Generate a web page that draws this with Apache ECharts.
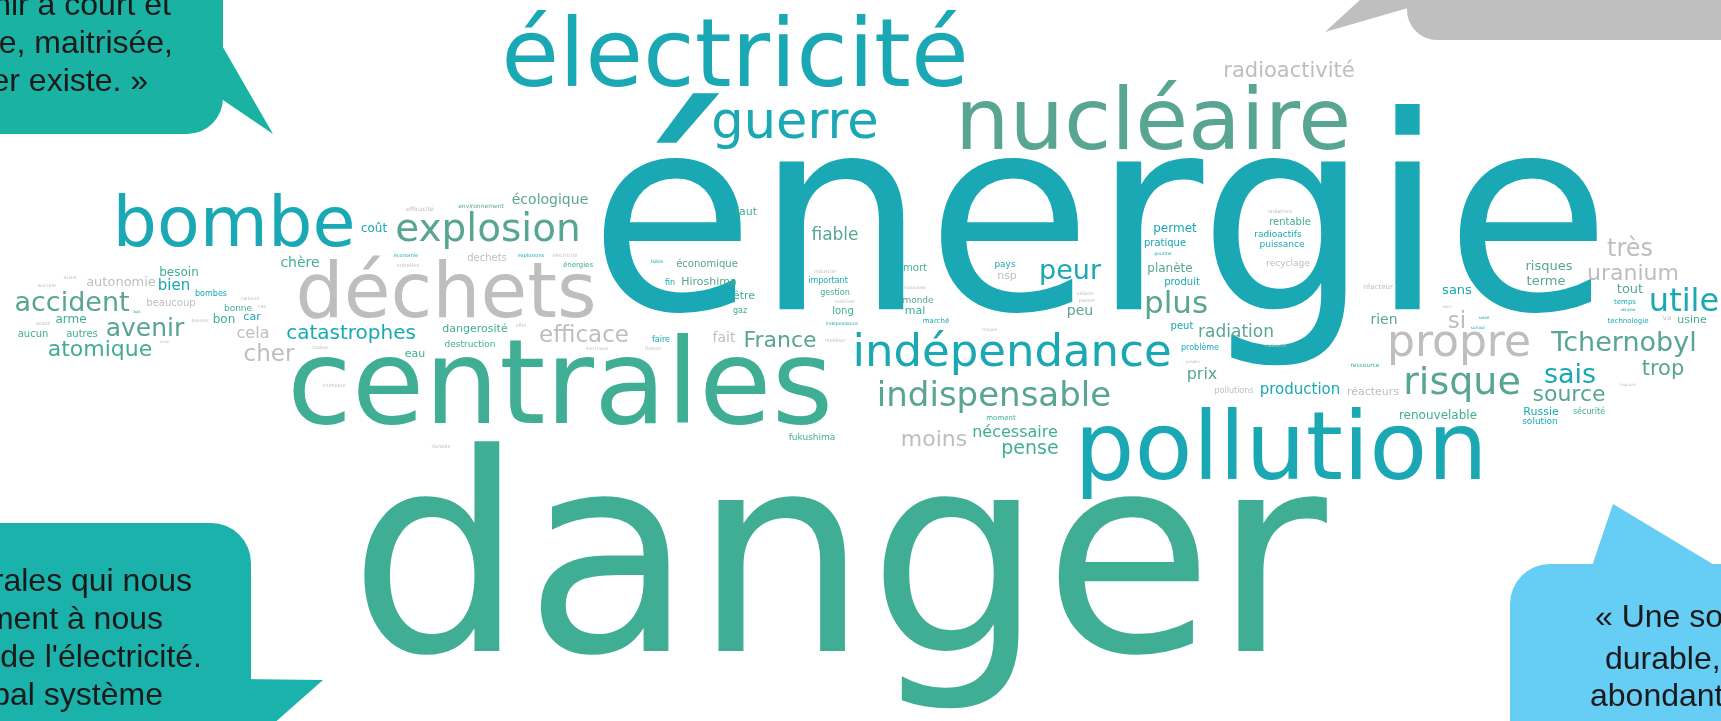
<!DOCTYPE html>
<html>
<head>
<meta charset="utf-8">
<script src="https://cdn.jsdelivr.net/npm/echarts@6/dist/echarts.min.js"></script>
<style>
html, body { margin: 0; padding: 0; background: #fff; }
#main { width: 1721px; height: 721px; }
</style>
</head>
<body>
<div id="main"></div>
<script>
// mots du nuage, leur place (centre x, ligne de base y), poids et teinte
var words = ['énergie', 'danger', 'centrales', 'pollution', 'électricité', 'nucléaire', 'déchets', 'bombe', 'guerre',
    'indépendance', 'propre', 'explosion', 'risque', 'indispensable', 'utile', 'plus', 'Tchernobyl', 'accident', 'peur',
    'sais', 'avenir', 'très', 'si', 'cher', 'efficace', 'France', 'uranium', 'source', 'atomique', 'moins', 'trop',
    'radioactivité', 'catastrophes', 'pense', 'radiation', 'prix', 'nécessaire', 'cela', 'production', 'bien', 'fait',
    'peu', 'rien', 'chère', 'écologique', 'autonomie', 'sans', 'risques', 'terme', 'tout', 'renouvelable', 'permet',
    'planète', 'besoin', 'bon', 'fiable', 'arme', 'Hiroshima', 'nsp', 'mal', 'faut', 'car', 'eau', 'dangerosité',
    'usine', 'Russie', 'réacteurs', 'être', 'coût', 'économique', 'mort', 'long', 'produit', 'peut', 'beaucoup',
    'aucun', 'autres', 'rentable', 'dechets', 'pratique', 'monde', 'bonne', 'destruction', 'radioactifs', 'puissance',
    'recyclage', 'fukushima', 'solution', 'pays', 'sécurité', 'faire', 'fin', 'gaz', 'gestion', 'important',
    'problème', 'pollutions', 'bombes', 'moment', 'marché', 'technologie', 'temps', 'énergies', 'réacteur', 'va',
    'ressource', 'économie', 'entretien', 'explosions', 'électricité', 'environnement', 'efficacité', 'aussi',
    'aucune', 'carbone', 'cas', 'assez', 'besoins', 'chaleur', 'chimique', 'effet', 'électrique', 'fission',
    'meilleur', 'durable', 'industrie', 'maîtriser', 'indépendance', 'mauvaise', 'moyen', 'néfaste', 'passer',
    'poutine', 'radiations', 'radioactif', 'projets', 'sens', 'soleil', 'surtout', 'ukraine', 'toujours', 'bas',
    'avoir', 'faible'];
var posX = [1100, 838, 560, 1281, 735, 1153, 446, 234, 795,
    1012, 1459, 488, 1462, 994, 1684, 1176, 1624, 72, 1070,
    1570, 145, 1630, 1457, 269, 584, 780, 1633, 1569, 100, 934, 1663,
    1289, 351, 1030, 1236, 1202, 1015, 253, 1300, 174, 724,
    1080, 1384, 300, 550, 121, 1457, 1549, 1546, 1630, 1438, 1175,
    1170, 179, 224, 835, 71, 709, 1007, 915, 746, 252, 415, 475,
    1692, 1541, 1373, 744, 374, 707, 915, 843, 1182, 1182, 171,
    33, 82, 1290, 487, 1165, 918, 238, 470, 1278, 1282,
    1288, 812, 1540, 1005, 1589, 661, 670, 740, 835, 828,
    1200, 1234, 211, 1001, 936, 1628, 1625, 578, 1378, 1667,
    1365, 406, 408, 531, 565, 481, 420, 70,
    47, 250, 262, 43, 200, 320, 334, 521, 597, 653,
    835, 441, 825, 845, 842, 915, 990, 1085, 1087,
    1163, 1280, 1276, 1193, 1447, 1484, 1478, 1628, 1628, 137,
    165, 657];
var posY = [320, 662, 428, 483, 90, 152, 320, 249, 140,
    368, 358, 243, 396, 407, 312, 314, 352, 312, 280,
    384, 337, 257, 329, 362, 343, 348, 281, 402, 357, 447, 376,
    78, 340, 455, 338, 380, 438, 339, 395, 291, 343,
    316, 325, 268, 205, 287, 295, 271, 286, 294, 419, 232,
    272, 276, 323, 241, 323, 285, 279, 314, 215, 320, 357, 332,
    323, 415, 395, 299, 232, 267, 271, 314, 285, 329, 306,
    337, 337, 225, 261, 246, 303, 311, 347, 237, 247,
    266, 440, 424, 267, 414, 342, 285, 313, 295, 283,
    350, 393, 296, 420, 323, 323, 304, 267, 289, 320,
    367, 257, 267, 257, 257, 208, 211, 279,
    287, 300, 308, 325, 322, 349, 387, 327, 350, 350,
    342, 448, 273, 303, 325, 289, 331, 295, 302,
    255, 213, 347, 363, 308, 319, 329, 311, 386, 313,
    343, 263];
var weight = [270, 276, 118, 95, 94, 86, 76, 70, 51,
    45, 44, 39, 38, 34, 32, 31, 27, 27, 27,
    27, 25, 24, 23, 23, 23, 22, 22, 22, 22, 22, 21,
    21, 20, 19, 17, 16, 16, 16, 15, 15, 14,
    14, 14, 14, 14, 13, 13, 13, 13, 13, 12, 12,
    12, 12, 12, 17, 12, 11, 11, 11, 11, 11, 11, 11,
    11, 11, 11, 11, 12, 10, 10, 10, 10, 10, 10,
    10, 10, 10, 10, 10, 9, 9, 9, 9, 9,
    9, 9, 9, 9, 8, 8, 8, 8, 8, 8,
    8, 8, 8, 7, 7, 7, 7, 7, 7, 7,
    6, 5, 5, 5, 5, 6, 6, 5,
    5, 4.5, 5, 5, 4.5, 4.5, 5, 4.5, 4.5, 5,
    5, 5, 5, 4.5, 4.5, 4.5, 4.5, 4.5, 5,
    4.5, 5, 4.5, 4, 4, 4, 4, 4, 4, 4,
    4, 4.5];
var tone = ['T', 'G', 'G', 'T', 'T', 'S', 'Y', 'T', 'T',
    'T', 'Y', 'S', 'S', 'S', 'T', 'S', 'S', 'S', 'T',
    'T', 'S', 'Y', 'Y', 'Y', 'Y', 'S', 'Y', 'S', 'G', 'Y', 'S',
    'Y', 'T', 'G', 'S', 'S', 'G', 'Y', 'T', 'T', 'Y',
    'S', 'S', 'G', 'S', 'Y', 'T', 'S', 'S', 'S', 'G', 'T',
    'S', 'G', 'G', 'S', 'G', 'S', 'Y', 'G', 'G', 'T', 'G', 'G',
    'G', 'T', 'Y', 'G', 'T', 'S', 'G', 'G', 'T', 'T', 'Y',
    'G', 'G', 'G', 'Y', 'T', 'S', 'G', 'G', 'T', 'T',
    'Y', 'G', 'T', 'T', 'G', 'T', 'T', 'G', 'G', 'T',
    'T', 'Y', 'T', 'G', 'T', 'T', 'T', 'G', 'Y', 'Y',
    'G', 'T', 'Y', 'T', 'Y', 'S', 'Y', 'Y',
    'Y', 'Y', 'Y', 'Y', 'Y', 'Y', 'Y', 'Y', 'Y', 'Y',
    'Y', 'Y', 'Y', 'Y', 'T', 'Y', 'Y', 'Y', 'Y',
    'T', 'Y', 'Y', 'Y', 'Y', 'T', 'T', 'T', 'Y', 'T',
    'Y', 'T'];

var palette = { T: '#19A8B4', G: '#40AE94', S: '#58A592', Y: '#BEBEBE' };

var myChart = echarts.init(document.getElementById('main'));

// chaque mot = un point du nuage, son étiquette est centrée dessus
var cloud = words.map(function (w, i) {
    return {
        name: w,
        value: [posX[i], posY[i] - 0.30 * weight[i]],
        label: { fontSize: weight[i], color: palette[tone[i]] }
    };
});

var quoteFont = '32px "Liberation Sans", Arial, sans-serif';
function quote(text, x, base, align) {
    return {
        type: 'text', x: x, y: base - 0.30 * 32, z: 10,
        style: { text: text, font: quoteFont, fill: '#1a1a1a', align: align, textAlign: align,
                 verticalAlign: 'middle', textVerticalAlign: 'middle' }
    };
}

option = {
    backgroundColor: '#fff',
    animation: false,
    grid: { left: 0, right: 0, top: 0, bottom: 0 },
    xAxis: { type: 'value', min: 0, max: 1721, show: false },
    yAxis: { type: 'value', min: 0, max: 721, inverse: true, show: false },
    graphic: [
        // bulle haut gauche
        { type: 'rect', z: 5, shape: { x: -60, y: -60, width: 283, height: 194, r: [0, 0, 36, 0] }, style: { fill: '#1AB2A2' } },
        { type: 'polygon', z: 5, shape: { points: [[220, 42], [273, 134], [220, 98]] }, style: { fill: '#1AB2A2' } },
        quote('nir à court et', 171, 16, 'right'),
        quote('e, maitrisée,', 173, 54, 'right'),
        quote('er existe. »', 148, 92, 'right'),
        // bulle bas gauche
        { type: 'rect', z: 5, shape: { x: -60, y: 523, width: 311, height: 260, r: [0, 40, 0, 0] }, style: { fill: '#1AB2AB' } },
        { type: 'polygon', z: 5, shape: { points: [[240, 679], [323, 680], [255, 740], [240, 740]] }, style: { fill: '#1AB2AB' } },
        quote('rales qui nous', 192, 592, 'right'),
        quote('ment à nous', 163, 630, 'right'),
        quote("de l'électricité.", 202, 668, 'right'),
        quote('pal système', 163, 706, 'right'),
        // bulle haut droite
        { type: 'rect', z: 5, shape: { x: 1407, y: -60, width: 380, height: 100, r: [0, 0, 0, 30] }, style: { fill: '#BFBFBF' } },
        { type: 'polygon', z: 5, shape: { points: [[1362, -2], [1325, 32], [1408, 8], [1408, -2]] }, style: { fill: '#BFBFBF' } },
        // bulle bas droite
        { type: 'rect', z: 5, shape: { x: 1510, y: 564, width: 280, height: 220, r: [40, 0, 0, 0] }, style: { fill: '#66CDF4' } },
        { type: 'polygon', z: 5, shape: { points: [[1592, 566], [1613, 504], [1716, 566]] }, style: { fill: '#66CDF4' } },
        quote('« Une so', 1595, 628, 'left'),
        quote('durable,', 1605, 670, 'left'),
        quote('abondant', 1590, 707, 'left')
    ],
    series: [
        {
            name: 'nuage',
            type: 'scatter',
            data: cloud,
            symbolSize: 1,
            silent: true,
            itemStyle: { color: 'rgba(0,0,0,0)', opacity: 1 },
            label: {
                show: true,
                position: 'inside',
                formatter: '{b}',
                opacity: 1,
                fontFamily: '"DejaVu Sans", sans-serif'
            },
            emphasis: { disabled: true }
        }
    ]
};

myChart.setOption(option);
</script>
</body>
</html>
